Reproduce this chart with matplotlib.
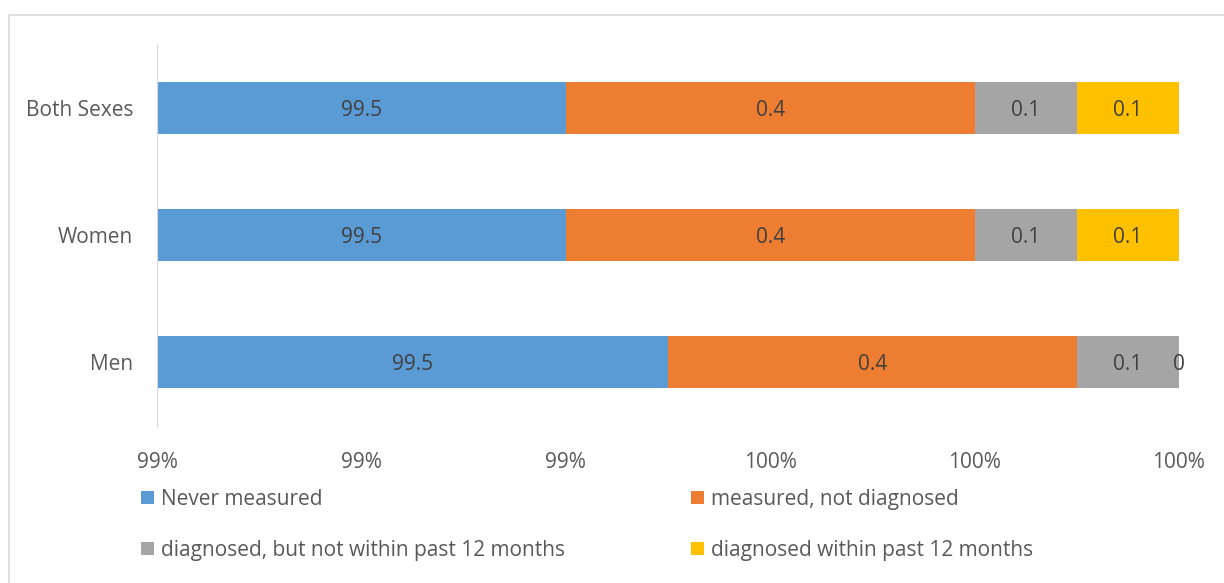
import numpy as np
import matplotlib.pyplot as plt
from matplotlib.patches import Rectangle
from matplotlib.ticker import FuncFormatter

plt.rcParams['font.family'] = ['Open Sans', 'DejaVu Sans']

groups = ['Both Sexes', 'Women', 'Men']
series = ['Never measured', 'measured, not diagnosed',
          'diagnosed, but not within past 12 months', 'diagnosed within past 12 months']
never = [99.46, 99.46, 99.5]
measured = [0.4, 0.4, 0.4]
diag_old = [0.1, 0.1, 0.1]
diag_new = [0.1, 0.1, 0.0]
colors = ['#5B9BD5', '#ED7D31', '#A5A5A5', '#FFC000']
xticks = [99.0, 99.2, 99.4, 99.6, 99.8, 100.0]

vals = np.array([never, measured, diag_old, diag_new])
share = vals / vals.sum(axis=0) * 100
xmin, xmax = 99.0, 100.0
fs = 15

W, H = 1224, 583
fig = plt.figure(figsize=(W / 100, H / 100), dpi=100)
ax = fig.add_axes([157 / W, 1 - 425.5 / H, (1179 - 157) / W, (425.5 - 44.5) / H])

# chart border (cut at right/bottom like the screenshot)
fig.patches.append(Rectangle((9 / W, -0.1), 1.1, 1 - 15 / H + 0.1, transform=fig.transFigure,
                             fill=False, edgecolor='#D9D9D9', lw=1.2))

y = np.arange(len(groups))
left = np.zeros(len(groups))
bars = []
for i in range(len(series)):
    b = ax.barh(y, share[i], left=left, height=0.41, color=colors[i], label=series[i])
    bars.append(b)
    for j in range(len(groups)):
        a = max(left[j], xmin)
        e = min(left[j] + share[i][j], xmax)
        ax.text((a + e) / 2, y[j] + 0.02, f"{round(vals[i][j], 1):g}", ha='center', va='center',
                fontsize=fs, color='#404040')
    left = left + share[i]

ax.set_xlim(xmin, xmax)
ax.set_ylim(2.5, -0.5)
ax.set_yticks(y)
ax.set_yticklabels(groups)
ax.set_xticks(xticks)
ax.xaxis.set_major_formatter(FuncFormatter(lambda v, p: f"{v:.0f}%"))
ax.tick_params(axis='both', length=0, labelsize=fs, labelcolor='#595959')
ax.tick_params(axis='x', pad=19)
ax.tick_params(axis='y', pad=17)
for s in ['top', 'right', 'bottom']:
    ax.spines[s].set_visible(False)
ax.spines['left'].set_color('#D9D9D9')

order = [0, 2, 1, 3]
leg = fig.legend([bars[k] for k in order], [series[k] for k in order], ncol=2,
                 loc='upper left', bbox_to_anchor=(122 / W, 1 - 470 / H), frameon=False,
                 fontsize=fs, handlelength=0.63, handleheight=0.63, handletextpad=0.34,
                 labelspacing=1.45, columnspacing=6.05, labelcolor='#595959')

fig.savefig('out.png', dpi=100)
